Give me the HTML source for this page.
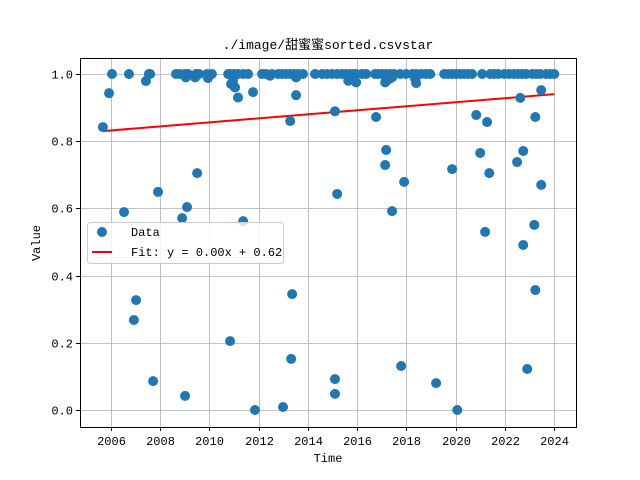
<!DOCTYPE html>
<html><head><meta charset="utf-8"><style>
html,body{margin:0;padding:0;background:#fff;}
svg{display:block;font-family:"Liberation Mono","Noto Sans CJK SC",monospace;}
</style></head><body>
<svg id="chart" width="640" height="480" viewBox="0 0 640 480">
<rect width="640" height="480" fill="#fff"/>
<text x="328" y="49" font-size="13" text-anchor="middle">./image/甜蜜蜜sorted.csvstar</text>
<g id="grid"></g>
<g id="fit"></g>
<g id="points"></g>
<rect x="80.5" y="58.5" width="496" height="369" fill="none" stroke="#000" stroke-width="1"/>
<g id="ticks"></g>
<text x="328" y="462" font-size="12" text-anchor="middle">Time</text>
<text x="40" y="243" font-size="12" text-anchor="middle" transform="rotate(-90 40 243)">Value</text>
<g>
<rect x="87.5" y="222.5" width="196" height="41" rx="3" fill="#fff" fill-opacity="0.8" stroke="#ccc"/>
<circle cx="102" cy="232" r="5" fill="#1f77b4"/>
<text x="131" y="236" font-size="12">Data</text>
<line x1="92" y1="252" x2="112" y2="252" stroke="red" stroke-width="2"/>
<text x="131" y="256" font-size="12">Fit: y = 0.00x + 0.62</text>
</g>
</svg>
<script>
const xTicks=[2006,2008,2010,2012,2014,2016,2018,2020,2022,2024];
const yTicks=[0.0,0.2,0.4,0.6,0.8,1.0];
const years=[2005.67,2005.92,2006.53,2006.93,2007.02,2007.42,2007.71,2007.91,2008.89,2009.01,2009.09,2009.5,2009.94,2010.84,2011.16,2011.37,2011.77,2011.85,2012.99,2013.28,2013.32,2013.36,2013.52,2015.1,2015.1,2015.1,2015.19,2016.77,2017.14,2017.18,2017.42,2017.79,2017.91,2018.4,2019.21,2019.86,2020.07,2020.84,2021.0,2021.2,2021.28,2021.37,2022.5,2022.63,2022.75,2022.75,2022.91,2023.2,2023.24,2023.24,2023.48,2023.48,
2006.04,2006.73,2007.54,2007.59,2008.64,2008.8,2009.0,2009.13,2009.46,2009.58,2009.9,2010.1,2010.76,2010.84,2011.0,2011.16,2011.37,2011.57,2012.14,2012.3,2012.54,2012.79,2012.95,2013.11,2013.28,2013.44,2013.6,2013.8,2014.29,2014.58,2014.78,2014.98,2015.19,2015.39,2015.55,2015.72,2015.84,2015.96,2016.2,2016.37,2016.73,2016.85,2017.02,2017.18,2017.34,2017.5,2017.75,2017.99,2018.24,2018.4,2018.6,2018.8,2018.97,2019.54,2019.7,2019.86,2020.02,2020.19,2020.35,2020.51,2020.67,2021.08,2021.41,2021.57,2021.73,2021.98,2022.18,2022.38,2022.54,2022.71,2022.87,2023.11,2023.28,2023.44,2023.68,2023.85,2024.01,
2009.04,2009.42,2010.88,2011.04,2010.96,2015.64,2015.96,2017.14,2017.3,2018.36,2017.42,2013.52,2012.46];
const values=[0.842,0.943,0.589,0.268,0.327,0.979,0.086,0.649,0.571,0.042,0.604,0.705,0.988,0.205,0.93,0.562,0.946,0.0,0.009,0.86,0.152,0.345,0.937,0.889,0.092,0.048,0.643,0.872,0.729,0.774,0.592,0.131,0.679,0.973,0.08,0.717,0.0,0.878,0.765,0.53,0.857,0.705,0.738,0.929,0.771,0.491,0.122,0.551,0.872,0.357,0.952,0.67,
1,1,1,1,1,1,1,1,1,1,1,1,1,1,1,1,1,1,1,1,1,1,1,1,1,1,1,1,1,1,1,1,1,1,1,1,1,1,1,1,1,1,1,1,1,1,1,1,1,1,1,1,1,1,1,1,1,1,1,1,1,1,1,1,1,1,1,1,1,1,1,1,1,1,1,1,1,
0.99,0.99,0.97,0.96,0.98,0.98,0.975,0.975,0.985,0.985,0.99,0.99,0.995];
const fitYears=[2005.67,2024.01];
const fitValues=[0.83,0.94];
const NS="http://www.w3.org/2000/svg";
const xs=v=>111+(v-2006)*(554-111)/18;
const ys=v=>410-v*336;
const grid=document.getElementById('grid'),ticks=document.getElementById('ticks');
function mk(tag,attrs,parent){const e=document.createElementNS(NS,tag);for(const k in attrs)e.setAttribute(k,attrs[k]);parent.appendChild(e);return e;}
xTicks.forEach(t=>{const x=Math.round(xs(t))+0.5;
const g=mk('line',{x1:x,x2:x,y1:58,y2:427,stroke:'#b0b0b0','stroke-width':0.8},grid);


mk('line',{x1:x,x2:x,y1:427,y2:431,stroke:'#000'},ticks);
const tx=mk('text',{x:x,y:445,'font-size':12,'text-anchor':'middle'},ticks);tx.textContent=t;

});
yTicks.forEach(t=>{const y=Math.round(ys(t))+0.5;
const g=mk('line',{x1:80,x2:576,y1:y,y2:y,stroke:'#b0b0b0','stroke-width':0.8},grid);


mk('line',{x1:76,x2:80,y1:y,y2:y,stroke:'#000'},ticks);
const tx=mk('text',{x:73,y:y+4,'font-size':12,'text-anchor':'end'},ticks);tx.textContent=t.toFixed(1);

});
const pts=document.getElementById('points');
years.forEach((yr,i)=>{const c=mk('circle',{cx:xs(yr),cy:ys(values[i]),r:5,fill:'#1f77b4'},pts);

});
const fl=mk('line',{x1:xs(fitYears[0]),y1:ys(fitValues[0]),x2:xs(fitYears[1]),y2:ys(fitValues[1]),stroke:'red','stroke-width':2},document.getElementById('fit'));


</script>
</body></html>
